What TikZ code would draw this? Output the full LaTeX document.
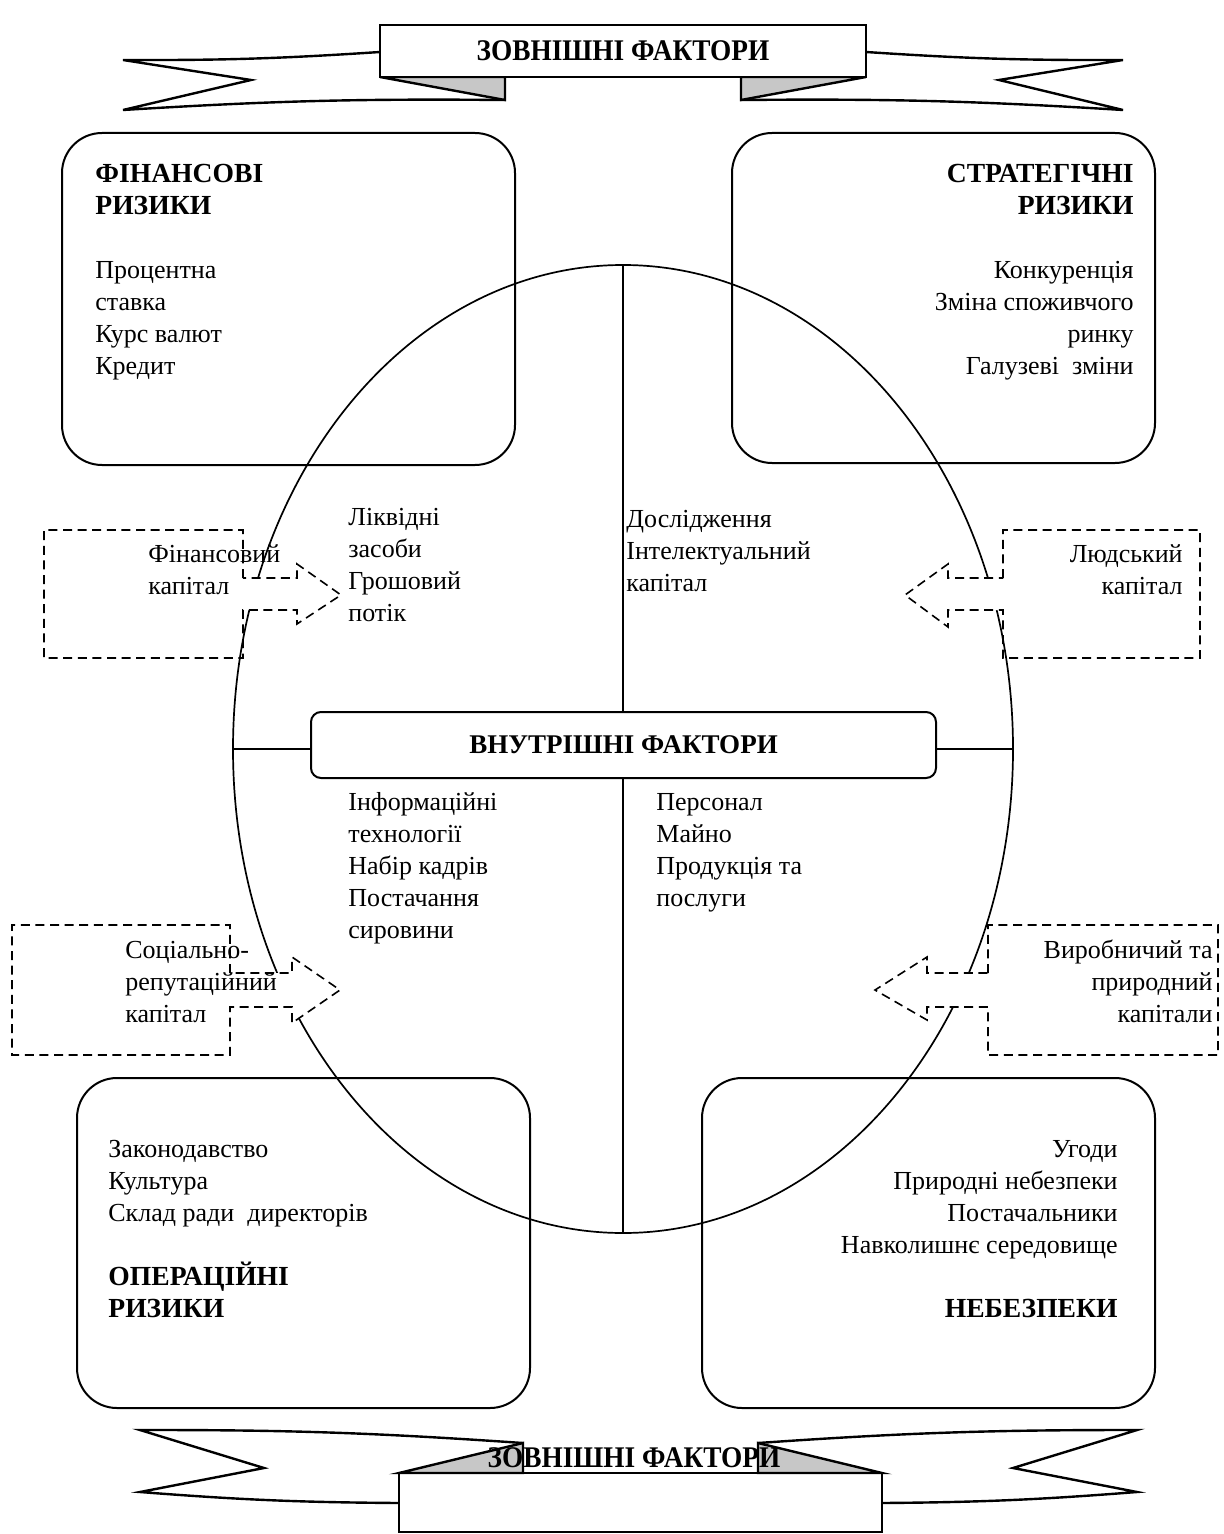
\documentclass[tikz,border=0pt]{standalone}
\usepackage{fontspec}
\usepackage{graphicx}
\setmainfont{Liberation Serif}
\usetikzlibrary{shapes.geometric}
\newcommand{\headtxt}[1]{{\bfseries\fontsize{13.8}{16}\selectfont #1}}
\begin{document}
\begin{tikzpicture}[x=0.5pt,y=-0.5pt,
  txt/.style={inner sep=0pt, font=\fontsize{13}{16}\selectfont},
  ltxt/.style={txt, align=left, anchor=base west},
  rtxt/.style={txt, align=right, anchor=base east},
  rbox/.style={draw, line width=1pt, rounded corners=20pt, inner sep=0pt},
  dsh/.style={line width=0.8pt, dash pattern=on 4.5pt off 2.8pt},
  ribbon/.style={draw, line width=1.2pt, line join=miter},
  fold/.style={fill=black!22, draw, line width=1.2pt, line join=miter},
  thin/.style={line width=0.85pt}]
\useasboundingbox (0,0) rectangle (1223,1534);
\fill[white] (0,0) rectangle (1223,1534);

% ---------- top banner ----------
\draw[ribbon] (380,52) to[bend left=2] (123,60) -- (251,80) -- (123,110) to[bend left=2] (505,100);
\draw[ribbon] (866,52) to[bend right=2] (1123,60) -- (999,80) -- (1123,110) to[bend right=2] (741,100);
\draw[fold] (380,77) -- (505,77) -- (505,100) -- cycle;
\draw[fold] (866,77) -- (741,77) -- (741,100) -- cycle;
\node[draw, fill=white, line width=1.2pt, minimum width=243pt, minimum height=26pt, inner sep=0pt,
      font=\bfseries\fontsize{15}{18}\selectfont] (topban) at (623,51) {\scalebox{0.91}[1]{ЗОВНІШНІ ФАКТОРИ}};

% ---------- ellipse and axes ----------
\node[draw, ellipse, thin, minimum width=390pt, minimum height=484pt, inner sep=0pt] (ell) at (623,749) {};
\draw[thin] (ell.north) -- (ell.south);
\draw[thin] (ell.west) -- (ell.east);

% ---------- corner boxes ----------
\node[rbox, minimum width=226.5pt, minimum height=166pt] (fin) at (288.5,299) {};
\node[rbox, minimum width=211.5pt, minimum height=165pt] (str) at (943.5,298) {};
\node[rbox, minimum width=226.5pt, minimum height=165pt] (oper) at (303.5,1243) {};
\node[rbox, minimum width=226.5pt, minimum height=165pt] (neb) at (928.5,1243) {};

% (anchors are at the baseline of the LAST line of each block)
\node[ltxt] (fintxt) at (95,375) {\headtxt{ФІНАНСОВІ}\\\headtxt{РИЗИКИ}\\[16pt]Процентна\\ставка\\Курс валют\\Кредит};
\node[rtxt] (strtxt) at (1134,375) {\headtxt{СТРАТЕГІЧНІ}\\\headtxt{РИЗИКИ}\\[16pt]Конкуренція\\Зміна споживчого\\ринку\\Галузеві\ \ зміни};
\node[ltxt] (opertxt) at (108,1317) {Законодавство\\Культура\\Склад ради\ \ директорів\\[16pt]\headtxt{ОПЕРАЦІЙНІ}\\\headtxt{РИЗИКИ}};
\node[rtxt] (nebtxt) at (1118,1317) {Угоди\\Природні небезпеки\\Постачальники\\Навколишнє середовище\\[16pt]\headtxt{НЕБЕЗПЕКИ}};

% ---------- inner texts ----------
\node[ltxt] (q1) at (348,621) {Ліквідні\\засоби\\Грошовий\\потік};
\node[ltxt] (q2) at (626,591) {Дослідження\\Інтелектуальний\\капітал};
\node[ltxt] (q3) at (348,938) {Інформаційні\\технології\\Набір кадрів\\Постачання\\сировини};
\node[ltxt] (q4) at (656,906) {Персонал\\Майно\\Продукція та\\послуги};

% ---------- dashed capital arrows ----------
\fill[white] (243,578) -- (297,578) -- (297,564) -- (341,595) -- (297,624) -- (297,610) -- (243,610) -- cycle;
\draw[dsh] (243,578) -- (243,530) -- (44,530) -- (44,658) -- (243,658) -- (243,610) -- (297,610) -- (297,624) -- (341,595) -- (297,564) -- (297,578) -- cycle;
\node[ltxt] (fk) at (148,594) {Фінансовий\\капітал};

\fill[white] (1003,578) -- (948,578) -- (948,564) -- (905,595) -- (948,627) -- (948,610) -- (1003,610) -- cycle;
\draw[dsh] (1003,578) -- (1003,530) -- (1200,530) -- (1200,658) -- (1003,658) -- (1003,610) -- (948,610) -- (948,627) -- (905,595) -- (948,564) -- (948,578) -- cycle;
\node[rtxt] (hk) at (1183,594) {Людський\\капітал};

\fill[white] (230,973) -- (292,973) -- (292,957) -- (340,990) -- (292,1023) -- (292,1007) -- (230,1007) -- cycle;
\draw[dsh] (230,973) -- (230,925) -- (12,925) -- (12,1055) -- (230,1055) -- (230,1007) -- (292,1007) -- (292,1023) -- (340,990) -- (292,957) -- (292,973) -- cycle;
\node[ltxt] (srk) at (125,1022) {Соціально-\\репутаційний\\капітал};

\fill[white] (988,973) -- (927,973) -- (927,957) -- (875,990) -- (927,1020) -- (927,1007) -- (988,1007) -- cycle;
\draw[dsh] (988,973) -- (988,925) -- (1218,925) -- (1218,1055) -- (988,1055) -- (988,1007) -- (927,1007) -- (927,1020) -- (875,990) -- (927,957) -- (927,973) -- cycle;
\node[rtxt] (vpk) at (1213,1022) {Виробничий та\\природний\\капітали};

% ---------- centre box ----------
\node[draw, fill=white, line width=1pt, rounded corners=5pt, minimum width=312.5pt, minimum height=33pt, inner sep=0pt,
      font=\bfseries\fontsize{13.5}{16}\selectfont] (inner) at (623.5,745) {ВНУТРІШНІ ФАКТОРИ};

% ---------- bottom banner ----------
\draw[ribbon] (523,1443) to[bend right=2] (140,1430) -- (264,1468) -- (140,1492) to[bend right=2] (399,1503);
\draw[ribbon] (758,1443) to[bend left=2] (1137,1430) -- (1013,1468) -- (1137,1492) to[bend left=2] (882,1503);
\draw[ribbon, fill=white] (399,1473) rectangle (882,1532);
\draw[fold] (399,1473) -- (523,1443) -- (523,1473) -- cycle;
\draw[fold] (758,1443) -- (758,1473) -- (882,1473) -- cycle;
\node[inner sep=0pt, font=\bfseries\fontsize{15}{18}\selectfont] (botban) at (634,1458) {\scalebox{0.91}[1]{ЗОВНІШНІ ФАКТОРИ}};
\end{tikzpicture}
\end{document}
